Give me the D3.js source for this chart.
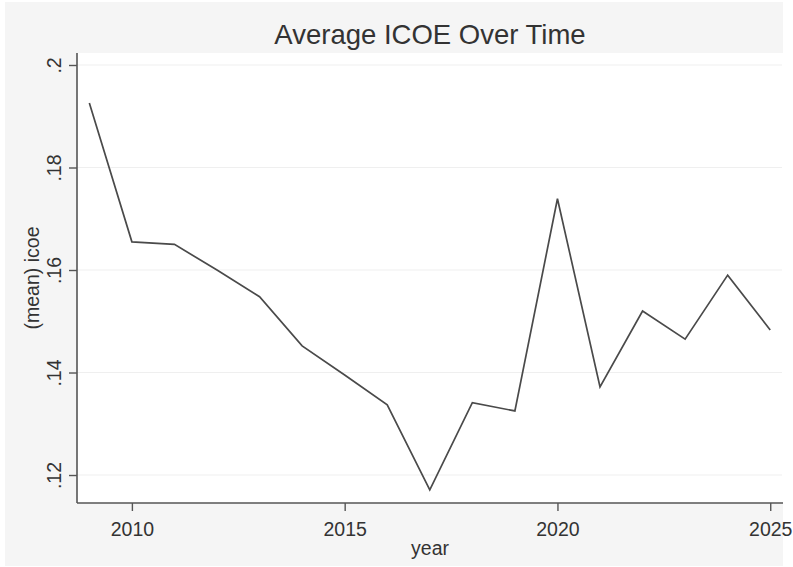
<!DOCTYPE html>
<html>
<head>
<meta charset="utf-8">
<script src="https://cdn.jsdelivr.net/npm/d3@7/dist/d3.min.js"></script>
<style>
  html, body { margin: 0; padding: 0; background: #ffffff; }
  svg { display: block; font-family: "Liberation Sans", Arial, Helvetica, sans-serif; }
</style>
</head>
<body>
<svg id="chart" width="793" height="567"></svg>
<script>
// Yearly average ICOE
const years = [2009, 2010, 2011, 2012, 2013, 2014, 2015, 2016, 2017,
               2018, 2019, 2020, 2021, 2022, 2023, 2024, 2025];
const icoe  = [0.1926, 0.1655, 0.1650, 0.1600, 0.1548, 0.1452, 0.1395, 0.1337, 0.1171,
               0.1341, 0.1325, 0.1739, 0.1372, 0.1520, 0.1465, 0.1590, 0.1483];

const xTicks = [2010, 2015, 2020, 2025];
const yTicks = [0.12, 0.14, 0.16, 0.18, 0.20];
const yTickLabels = [".12", ".14", ".16", ".18", ".2"];

const titleText = "Average ICOE Over Time";
const xTitle = "year";
const yTitle = "(mean) icoe";

const svg = d3.select("#chart");

// graph region (light grey) and plot region (white)
const outer = { left: 5, top: 2, right: 783, bottom: 566 };
const plot  = { left: 77, top: 53, right: 783, bottom: 503 };

svg.append("rect")
  .attr("x", outer.left).attr("y", outer.top)
  .attr("width", outer.right - outer.left)
  .attr("height", outer.bottom - outer.top)
  .attr("fill", "#f5f5f5");

svg.append("rect")
  .attr("x", plot.left).attr("y", plot.top)
  .attr("width", plot.right - plot.left)
  .attr("height", plot.bottom - plot.top)
  .attr("fill", "#ffffff");

const x = d3.scaleLinear().domain([2008.71, 2025.3]).range([plot.left, plot.right]);
const y = d3.scaleLinear().domain([0.11454, 0.20234]).range([plot.bottom, plot.top]);

// horizontal grid lines
svg.append("g")
  .selectAll("line")
  .data(yTicks)
  .join("line")
  .attr("x1", plot.left).attr("x2", plot.right - 1)
  .attr("y1", d => y(d)).attr("y2", d => y(d))
  .attr("stroke", "#efefef")
  .attr("stroke-width", 1.2);

// data line
const line = d3.line()
  .x((d, i) => x(years[i]))
  .y(d => y(d));

svg.append("path")
  .datum(icoe)
  .attr("d", line)
  .attr("fill", "none")
  .attr("stroke", "#4a4a4a")
  .attr("stroke-width", 1.7)
  .attr("stroke-linejoin", "miter");

const axisColor = "#555555";
const textColor = "#333333";
const labelSize = "19.5px";

// x axis
const xAxis = svg.append("g")
  .attr("transform", `translate(0,${plot.bottom})`)
  .call(d3.axisBottom(x).tickValues(xTicks).tickFormat(d3.format("d")).tickSize(8).tickSizeOuter(0));

// y axis
const yAxis = svg.append("g")
  .attr("transform", `translate(${plot.left},0)`)
  .call(d3.axisLeft(y).tickValues(yTicks)
    .tickFormat((d, i) => yTickLabels[i]).tickSize(8).tickSizeOuter(0));

[xAxis, yAxis].forEach(g => {
  g.select(".domain")
    .attr("stroke", axisColor).attr("stroke-width", 1.6);
  g.selectAll(".tick line")
    .attr("stroke", axisColor).attr("stroke-width", 1.4);
  g.selectAll(".tick text")
    .attr("fill", textColor)
    .style("font-size", labelSize)
    .style("font-family", "'Liberation Sans', Arial, sans-serif");
});

// x domain line spans the full plot width
xAxis.select(".domain").attr("d", `M${plot.left},0H${plot.right}`);
yAxis.select(".domain").attr("d", `M0,${plot.top}V${plot.bottom}`);

xAxis.selectAll(".tick text")
  .attr("y", 33).attr("dy", 0);

yAxis.selectAll(".tick text")
  .attr("transform", "rotate(-90)")
  .attr("text-anchor", "middle")
  .attr("x", 0).attr("y", -16).attr("dy", 0);

// title
svg.append("text")
  .attr("x", (plot.left + plot.right) / 2)
  .attr("y", 44)
  .attr("text-anchor", "middle")
  .attr("fill", textColor)
  .style("font-size", "27.5px")
  .text(titleText);

// axis titles
svg.append("text")
  .attr("x", (plot.left + plot.right) / 2)
  .attr("y", 555)
  .attr("text-anchor", "middle")
  .attr("fill", textColor)
  .style("font-size", labelSize)
  .text(xTitle);

svg.append("text")
  .attr("transform", `translate(39,${(plot.top + plot.bottom) / 2}) rotate(-90)`)
  .attr("text-anchor", "middle")
  .attr("fill", textColor)
  .style("font-size", labelSize)
  .text(yTitle);
</script>
</body>
</html>
